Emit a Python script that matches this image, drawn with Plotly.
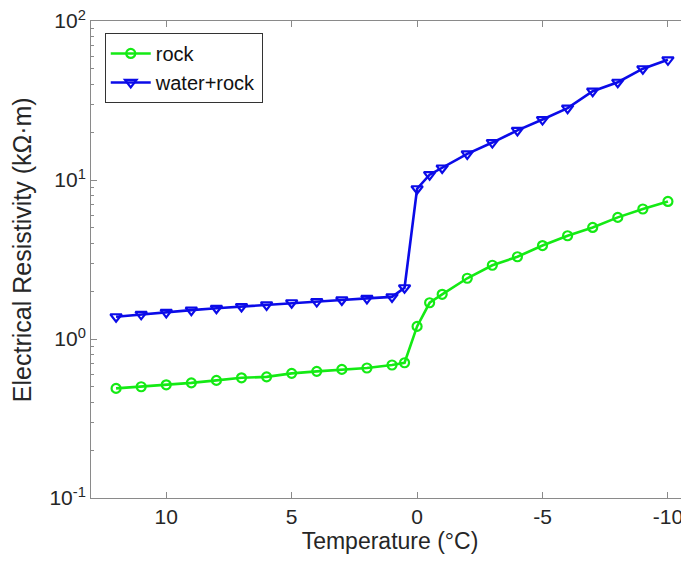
import plotly.graph_objects as go

temperature = [12, 11, 10, 9, 8, 7, 6, 5, 4, 3, 2, 1, 0.5, 0, -0.5, -1, -2, -3, -4, -5, -6, -7, -8, -9, -10]
rock = [0.489, 0.501, 0.515, 0.530, 0.549, 0.570, 0.578, 0.608, 0.626, 0.644, 0.657, 0.686, 0.709,
        1.20, 1.69, 1.91, 2.41, 2.91, 3.29, 3.87, 4.46, 5.03, 5.82, 6.57, 7.33]
water_rock = [1.38, 1.43, 1.47, 1.52, 1.56, 1.60, 1.64, 1.69, 1.72, 1.76, 1.80, 1.84, 2.10,
              8.81, 10.8, 11.9, 14.6, 17.2, 20.5, 24.0, 28.3, 36.2, 41.2, 50.1, 57.0]

x_ticks = [10, 5, 0, -5, -10]
y_ticks = [0.1, 1, 10, 100]
y_tick_text = ["10<sup>-1</sup>", "10<sup>0</sup>", "10<sup>1</sup>", "10<sup>2</sup>"]
y_minor = [m * d for d in [0.1, 1, 10] for m in range(2, 10)]
y_title = "Electrical Resistivity (kΩ·m)"

font_family = "Liberation Sans, Arial, Helvetica, sans-serif"
text_color = "#262626"

fig = go.Figure()
fig.add_trace(go.Scatter(
    x=temperature, y=rock, name="rock", mode="lines+markers",
    line=dict(color="#14ea14", width=2.6),
    marker=dict(symbol="circle-open", size=9, color="#14ea14", line=dict(width=2.2)),
))
fig.add_trace(go.Scatter(
    x=temperature, y=water_rock, name="water+rock", mode="lines+markers",
    line=dict(color="#0b0be8", width=2.6),
    marker=dict(symbol="triangle-down-open", size=10, color="#0b0be8", line=dict(width=2.2)),
))

axis_common = dict(
    showline=True, linecolor="#8a8a8a", linewidth=1, mirror="ticks",
    ticks="inside", tickcolor="#8a8a8a", ticklen=6, tickwidth=1,
    showgrid=False, zeroline=False, automargin=False, ticklabeloverflow="allow",
    tickfont=dict(size=21, color=text_color, family=font_family),
)

fig.update_xaxes(
    range=[13, -10.84], tickvals=x_ticks, ticktext=[str(v) for v in x_ticks],
    title=dict(text="Temperature (°C)", font=dict(size=23, color=text_color, family=font_family), standoff=4),
    **axis_common,
)
fig.update_yaxes(
    type="log", range=[-1, 2], tickvals=y_ticks, ticktext=y_tick_text,
    minor=dict(tickvals=y_minor, ticks="inside", ticklen=3, tickcolor="#8a8a8a", tickwidth=1),
    **axis_common,
)

fig.add_annotation(
    text=y_title, textangle=-90, showarrow=False,
    xref="paper", yref="paper", x=-0.115, y=0.52, xanchor="center", yanchor="middle",
    font=dict(size=25, color=text_color, family=font_family),
)

# the page body has an 8px margin, so the figure is shrunk and shifted to fill the window
fig.update_layout(
    width=681, height=555,
    margin=dict(l=83, r=0, t=13, b=65),
    plot_bgcolor="white", paper_bgcolor="white",
    font=dict(family=font_family, color=text_color),
    showlegend=True,
    legend=dict(
        x=0.023, y=0.975, xanchor="left", yanchor="top",
        bgcolor="white", bordercolor="#333333", borderwidth=1,
        font=dict(size=20, color="#111111", family=font_family),
        tracegroupgap=0, itemwidth=40,
    ),
)

fig.write_html("out.html")
